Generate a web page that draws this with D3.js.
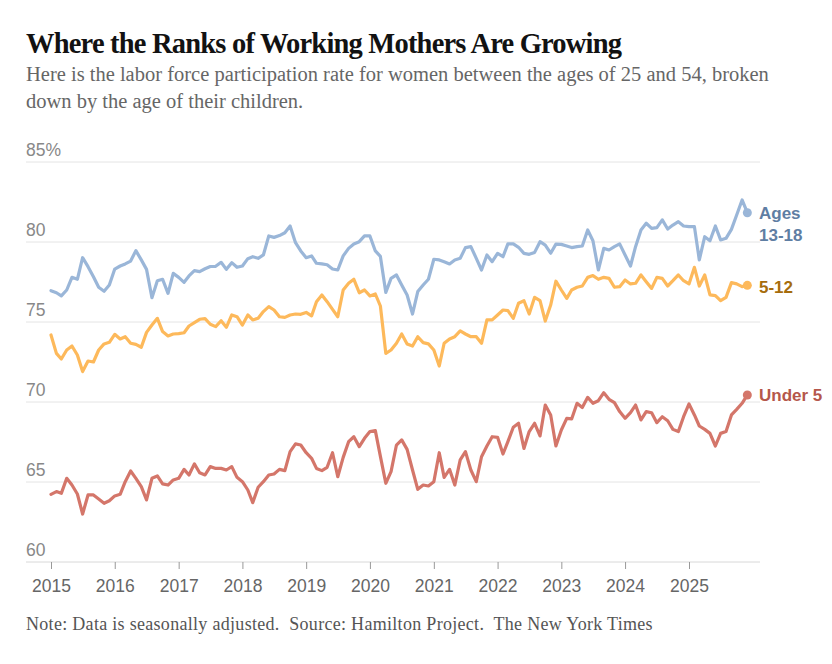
<!DOCTYPE html>
<html lang="en">
<head>
    <meta charset="UTF-8">
    <title>Where the Ranks of Working Mothers Are Growing</title>
    <script src="https://d3js.org/d3.v7.min.js"></script>
    <style>
        body {
            margin: 0;
            background: #fff;
        }
        .serif { font-family: 'Liberation Serif', 'DejaVu Serif', serif; }
        .sans { font-family: 'Liberation Sans', Arial, sans-serif; }
    </style>
</head>
<body>
<div id="chart"></div>
<script>
    // monthly values, Jan 2015 onward (percent)
    var ages13to18 = [
        76.96, 76.83, 76.63, 77.0, 77.79, 77.67, 79.02, 78.46, 77.83, 77.17, 76.92, 77.31,
        78.31, 78.5, 78.63, 78.81, 79.46, 78.88, 78.29, 76.52, 77.58, 77.67, 76.79, 78.04,
        77.79, 77.48, 77.88, 78.21, 78.15, 78.33, 78.47, 78.48, 78.73, 78.29, 78.71, 78.42,
        78.5, 78.96, 79.08, 78.98, 79.19, 80.38, 80.29, 80.4, 80.58, 81.0, 79.96, 79.44,
        79.02, 79.13, 78.67, 78.63, 78.58, 78.31, 78.25, 79.13, 79.6, 79.88, 80.02, 80.38,
        80.38, 79.44, 79.1, 76.85, 77.73, 77.94, 77.31, 76.69, 75.5, 76.9, 77.31, 77.67,
        78.92, 78.88, 78.77, 78.63, 78.88, 78.98, 79.65, 79.71, 78.98, 78.25, 79.19, 78.77,
        79.29, 79.08, 79.88, 79.88, 79.67, 79.29, 79.23, 79.35, 80.02, 79.81, 79.3, 79.87,
        79.85, 79.75, 79.65, 79.71, 79.75, 80.75, 80.08, 78.25, 79.6, 79.5, 79.71, 79.88,
        79.19, 78.5, 79.71, 80.75, 81.17, 80.85, 80.9, 81.38, 80.81, 81.06, 81.27, 81.0,
        80.96, 80.96, 78.88, 80.33, 80.08, 81.0, 80.13, 80.23, 80.79, 81.69, 82.63, 81.83
    ];
    var ages5to12 = [
        74.19, 73.04, 72.69, 73.25, 73.5, 72.94, 71.9, 72.56, 72.5, 73.25, 73.63, 73.73,
        74.23, 73.94, 74.08, 73.67, 73.6, 73.42, 74.35, 74.81, 75.23, 74.4, 74.13, 74.25,
        74.27, 74.33, 74.75, 74.96, 75.17, 75.21, 74.86, 74.71, 75.08, 74.67, 75.44, 75.33,
        74.81, 75.44, 75.13, 75.23, 75.65, 75.96, 75.75, 75.33, 75.29, 75.44, 75.5, 75.48,
        75.6, 75.38, 76.27, 76.69, 76.27, 75.79, 75.33, 77.0, 77.42, 77.67, 76.83, 77.0,
        76.63, 76.75, 76.0, 73.04, 73.25, 73.67, 74.25, 73.63, 73.5, 74.08, 73.71, 73.63,
        73.25, 72.25, 73.67, 73.94, 74.08, 74.44, 74.25, 74.08, 74.08, 73.67, 75.13, 75.13,
        75.44, 75.75, 75.71, 75.23, 76.17, 76.33, 75.5, 76.54, 76.33, 75.06, 76.06, 77.55,
        77.0, 76.48, 77.0, 77.17, 77.25, 77.79, 77.9, 77.67, 77.79, 77.73, 77.17, 77.21,
        77.63, 77.38, 77.42, 77.94, 77.52, 77.1, 77.79, 77.73, 77.25, 77.58, 77.94, 77.58,
        77.38, 78.42, 77.25, 77.94, 76.69, 76.65, 76.33, 76.54, 77.46, 77.38, 77.21, 77.29
    ];
    var under5 = [
        64.23, 64.4, 64.29, 65.23, 64.81, 64.25, 63.0, 64.19, 64.19, 63.94, 63.67, 63.83,
        64.13, 64.23, 65.02, 65.69, 65.23, 64.71, 63.88, 65.23, 65.38, 64.88, 64.81, 65.13,
        65.23, 65.79, 65.44, 66.13, 65.58, 65.44, 65.96, 65.85, 65.85, 65.75, 65.96, 65.29,
        65.02, 64.5, 63.71, 64.67, 65.02, 65.44, 65.5, 65.79, 65.71, 66.9, 67.38, 67.31,
        66.83, 66.48, 65.85, 65.71, 65.92, 66.83, 65.33, 66.54, 67.52, 67.83, 67.21, 67.73,
        68.15, 68.21, 66.6, 64.92, 65.65, 67.31, 67.63, 67.04, 65.75, 64.54, 64.81, 64.75,
        65.02, 66.83, 65.29, 65.79, 64.81, 66.38, 66.9, 65.75, 65.02, 66.58, 67.25, 67.83,
        67.79, 66.75, 67.52, 68.42, 68.67, 67.1, 68.15, 68.67, 67.88, 69.81, 69.19, 67.25,
        68.25, 68.98, 68.94, 69.92, 69.65, 70.29, 69.92, 70.08, 70.58, 70.17, 69.96, 69.4,
        68.98, 69.33, 69.81, 68.88, 69.4, 69.33, 68.71, 69.08, 68.83, 68.29, 68.15, 69.08,
        69.88, 69.19, 68.5, 68.29, 68.04, 67.25, 68.04, 68.15, 69.19, 69.54, 69.92, 70.44
    ];
    var yTicks = [60, 65, 70, 75, 80, 85];
    var yearTicks = [2015, 2016, 2017, 2018, 2019, 2020, 2021, 2022, 2023, 2024, 2025];

    var series = [
        {name: ["Ages", "13-18"], values: ages13to18, line: "#9ab6d8", label: "#5f7ea3"},
        {name: ["5-12"], values: ages5to12, line: "#fdb95b", label: "#a66c0c"},
        {name: ["Under 5"], values: under5, line: "#d4766a", label: "#b5574b"}
    ];

    var width = 832, height = 664;
    var svg = d3.select("#chart").append("svg")
        .attr("width", width)
        .attr("height", height);

    // title + subtitle
    svg.append("text")
        .attr("class", "serif")
        .attr("x", 26).attr("y", 53)
        .attr("font-size", 28.5)
        .attr("font-weight", "bold")
        .attr("letter-spacing", -0.8)
        .attr("fill", "#121212")
        .text("Where the Ranks of Working Mothers Are Growing");

    var sub = svg.append("text")
        .attr("class", "serif")
        .attr("font-size", 20.5)
        .attr("fill", "#666");
    sub.append("tspan").attr("x", 26).attr("y", 81)
        .text("Here is the labor force participation rate for women between the ages of 25 and 54, broken");
    sub.append("tspan").attr("x", 26).attr("y", 108)
        .text("down by the age of their children.");

    var x = d3.scaleTime()
        .domain([new Date(2015, 0, 1), new Date(2025, 0, 1)])
        .range([51, 689]);
    var y = d3.scaleLinear()
        .domain([60, 85])
        .range([562, 162]);

    var dateOf = function (i) { return new Date(2015, i, 1); };

    // gridlines + y labels
    svg.append("g").selectAll("line")
        .data(yTicks)
        .join("line")
        .attr("x1", 26).attr("x2", 760)
        .attr("y1", d => y(d)).attr("y2", d => y(d))
        .attr("stroke", d => d === 60 ? "#d8d8d8" : "#e4e4e4")
        .attr("stroke-width", 1);

    svg.append("g").selectAll("text")
        .data(yTicks)
        .join("text")
        .attr("class", "sans")
        .attr("x", 26)
        .attr("y", d => y(d) - 6)
        .attr("font-size", 17.5)
        .attr("fill", "#888")
        .text(d => d === 85 ? "85%" : d);

    // x axis
    var xAxis = d3.axisBottom(x)
        .tickValues(yearTicks.map(yr => new Date(yr, 0, 1)))
        .tickFormat(d3.timeFormat("%Y"))
        .tickSize(7)
        .tickPadding(11);
    var gx = svg.append("g")
        .attr("transform", "translate(0," + y(60) + ")")
        .call(xAxis);
    gx.select(".domain").remove();
    gx.selectAll(".tick line").attr("stroke", "#999");
    gx.selectAll(".tick text")
        .attr("class", "sans")
        .attr("font-size", 17.5)
        .attr("fill", "#666");

    // lines
    var line = d3.line()
        .x((d, i) => x(dateOf(i)))
        .y(d => y(d))
        .curve(d3.curveLinear);

    series.forEach(function (s) {
        svg.append("path")
            .datum(s.values)
            .attr("d", line)
            .attr("fill", "none")
            .attr("stroke", s.line)
            .attr("stroke-width", 3.2)
            .attr("stroke-linejoin", "round")
            .attr("stroke-linecap", "round");

        var last = s.values.length - 1;
        svg.append("circle")
            .attr("cx", x(dateOf(last)))
            .attr("cy", y(s.values[last]))
            .attr("r", 4.5)
            .attr("fill", s.line);
    });

    // end labels
    var labelPos = [[219, 241], [293], [401]];
    series.forEach(function (s, k) {
        var t = svg.append("text")
            .attr("class", "sans")
            .attr("font-size", 17)
            .attr("font-weight", "bold")
            .attr("fill", s.label);
        s.name.forEach(function (n, j) {
            t.append("tspan").attr("x", 759).attr("y", labelPos[k][j]).text(n);
        });
    });

    // footer
    svg.append("text")
        .attr("class", "serif")
        .attr("x", 26).attr("y", 630)
        .attr("font-size", 18)
        .attr("letter-spacing", 0.3)
        .attr("fill", "#555")
        .attr("xml:space", "preserve")
        .text("Note: Data is seasonally adjusted.  Source: Hamilton Project.  The New York Times");
</script>
</body>
</html>
